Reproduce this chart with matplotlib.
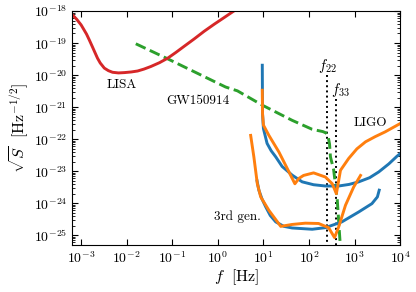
import numpy as np
import matplotlib
matplotlib.use("Agg")
import matplotlib.pyplot as plt

plt.rcParams["font.family"] = "serif"
plt.rcParams["font.serif"] = ["cmr10"]
plt.rcParams["mathtext.fontset"] = "cm"
plt.rcParams["axes.formatter.use_mathtext"] = True

# curves, as log10(f [Hz]) and log10(sqrt(S))
lisa_logf = [-3.20, -3.10, -3.0, -2.95, -2.88, -2.82, -2.75, -2.70, -2.64, -2.58, -2.49, -2.40, -2.31,
             -2.18, -2.05, -1.90, -1.76, -1.62, -1.47, -1.28, -1.10, -0.92, -0.74, -0.52, -0.30, -0.08, 0.14, 0.40]
lisa_logs = [-18.10, -18.25, -18.43, -18.55, -18.72, -18.90, -19.12, -19.28, -19.47, -19.62, -19.78, -19.86, -19.91,
             -19.93, -19.92, -19.90, -19.87, -19.81, -19.73, -19.61, -19.47, -19.29, -19.10, -18.87, -18.63, -18.41, -18.20, -17.95]

gw_logf = [-1.80, -1.10, 0.17, 0.43, 0.98, 1.63, 2.07, 2.20, 2.30, 2.37, 2.42, 2.45, 2.47, 2.54, 2.62, 2.69]
gw_logs = [-19.02, -19.49, -20.37, -20.49, -20.94, -21.41, -21.69, -21.73, -21.76, -21.80, -21.92, -22.15, -22.55, -22.95, -23.90, -25.40]

ligo_blue_logf = [0.975, 0.98, 1.00, 1.08, 1.17, 1.27, 1.41, 1.63, 1.85, 2.10, 2.36, 2.65, 2.88, 3.09, 3.33, 3.53, 3.75, 3.93, 4.0]
ligo_blue_logs = [-19.69, -21.20, -21.67, -22.13, -22.36, -22.55, -22.85, -23.12, -23.33, -23.42, -23.46, -23.46, -23.41,
                  -23.33, -23.20, -23.02, -22.77, -22.53, -22.45]

ligo_orange_logf = [0.975, 0.98, 1.00, 1.12, 1.34, 1.50, 1.69, 1.78, 1.88, 2.10, 2.36, 2.51, 2.60, 2.69, 2.87, 3.05, 3.24, 3.45, 3.67, 4.0]
ligo_orange_logs = [-20.47, -21.20, -21.56, -21.88, -22.40, -22.85, -23.39, -23.22, -23.13, -23.05, -23.18, -23.39, -23.70,
                    -22.97, -22.60, -22.30, -22.08, -21.92, -21.77, -21.51]

third_blue_logf = [0.86, 0.90, 0.97, 1.05, 1.15, 1.27, 1.45, 1.63, 2.07, 2.36, 2.72, 3.09, 3.38, 3.50, 3.54]
third_blue_logs = [-23.30, -23.59, -23.87, -24.11, -24.38, -24.58, -24.72, -24.77, -24.81, -24.76, -24.58, -24.27, -24.01, -23.80, -23.59]

third_orange_logf = [0.72, 0.79, 0.866, 0.94, 1.12, 1.38, 1.63, 1.92, 2.21, 2.43, 2.56, 2.65, 2.80, 2.98, 3.13]
third_orange_logs = [-21.88, -22.55, -23.39, -23.80, -24.22, -24.72, -24.66, -24.62, -24.63, -24.76, -25.07, -24.74, -24.06, -23.49, -23.13]

f22, f22_top = 250.0, 1e-20
f33, f33_top = 390.0, 10**-20.73

fig, ax = plt.subplots(figsize=(4.16, 2.92), dpi=100)
fig.subplots_adjust(left=0.173, right=0.962, top=0.962, bottom=0.161)

p = lambda a: 10**np.array(a)

ax.plot([f22, f22], [f22_top, 1e-26], color="k", ls=":", lw=1.4)
ax.plot([f33, f33], [f33_top, 1e-26], color="k", ls=":", lw=1.4)

ax.plot(p(gw_logf), p(gw_logs), color="tab:green", ls="--", lw=2.1)
ax.plot(p(ligo_blue_logf), p(ligo_blue_logs), color="tab:blue", lw=2.1)
ax.plot(p(third_blue_logf), p(third_blue_logs), color="tab:blue", lw=2.1)
ax.plot(p(ligo_orange_logf), p(ligo_orange_logs), color="tab:orange", lw=2.1)
ax.plot(p(third_orange_logf), p(third_orange_logs), color="tab:orange", lw=2.1)
ax.plot(p(lisa_logf), p(lisa_logs), color="tab:red", lw=2.1)

ax.set_xscale("log")
ax.set_yscale("log")
ax.set_xlim(10**-3.2, 1e4)
ax.set_ylim(5e-26, 1e-18)
ax.set_xticks([1e-3, 1e-2, 1e-1, 1e0, 1e1, 1e2, 1e3, 1e4])
ax.set_yticks([1e-25, 1e-24, 1e-23, 1e-22, 1e-21, 1e-20, 1e-19, 1e-18])
ax.tick_params(which="both", direction="in", top=True, right=True, labelsize=10)
ax.tick_params(which="major", length=4)
ax.tick_params(which="minor", length=2)

ax.set_xlabel(r"$f\ \ [\mathrm{Hz}]$", fontsize=11.5, labelpad=1)
ax.set_ylabel(r"$\sqrt{S}\ \ [\mathrm{Hz}^{-1/2}]$", fontsize=11.5, labelpad=2)

ax.text(7.6e-3, 10**-20.3, "LISA", fontsize=9.5, ha="center", va="center")
ax.text(0.36, 10**-20.8, "GW150914", fontsize=9.5, ha="center", va="center")
ax.text(2.2e3, 10**-21.5, "LIGO", fontsize=9.5, ha="center", va="center")
ax.text(2.75, 10**-24.43, "3rd gen.", fontsize=9.5, ha="center", va="center")
ax.text(f22, 10**-19.7, r"$f_{22}$", fontsize=10.5, ha="center", va="center")
ax.text(500, 10**-20.45, r"$f_{33}$", fontsize=10.5, ha="center", va="center")

fig.savefig("out.png", dpi=100)
